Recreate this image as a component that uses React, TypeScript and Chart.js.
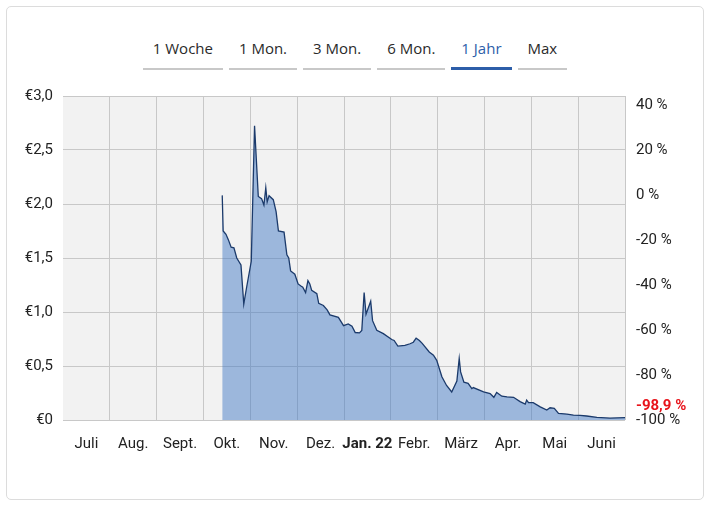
import React, { useEffect, useRef } from "react";
import { Chart, registerables } from "chart.js";

Chart.register(...registerables);

const monthLabels = ["Juli", "Aug.", "Sept.", "Okt.", "Nov.", "Dez.", "Jan. 22", "Febr.", "März", "Apr.", "Mai", "Juni"];
const tabs = ["1 Woche", "1 Mon.", "3 Mon.", "6 Mon.", "1 Jahr", "Max"];
const activeTab = "1 Jahr";

// position in months since 1 July 2021
const monthPos = [
  3.40, 3.42, 3.48, 3.53, 3.59, 3.65, 3.71, 3.80, 3.86, 3.92, 4.02, 4.09,
  4.17, 4.24, 4.29, 4.33, 4.36, 4.40, 4.49, 4.55, 4.60, 4.72, 4.78, 4.82,
  4.86, 4.95, 5.02, 5.08, 5.12, 5.18, 5.23, 5.27, 5.31, 5.42, 5.46, 5.56,
  5.64, 5.70, 5.88, 5.99, 6.09, 6.17, 6.24, 6.33, 6.38, 6.43, 6.47, 6.57,
  6.61, 6.70, 6.84, 7.02, 7.07, 7.15, 7.30, 7.41, 7.48, 7.54, 7.61, 7.67,
  7.82, 7.91, 7.98, 8.09, 8.19, 8.30, 8.41, 8.46, 8.49, 8.56, 8.65, 8.73,
  8.76, 8.98, 9.12, 9.20, 9.26, 9.37, 9.48, 9.62, 9.76, 9.87, 9.90, 9.94,
  10.04, 10.19, 10.33, 10.40, 10.49, 10.58, 10.76, 10.90, 11.04, 11.18, 11.40, 11.68,
  12.0,
];
const prices = [
  2.08, 1.75, 1.72, 1.67, 1.60, 1.595, 1.50, 1.435, 1.074, 1.227, 1.47, 2.724,
  2.07, 2.05, 1.99, 2.15, 2.02, 2.077, 2.04, 1.93, 1.75, 1.74, 1.53, 1.50,
  1.38, 1.35, 1.26, 1.24, 1.23, 1.18, 1.29, 1.26, 1.20, 1.17, 1.08, 1.06,
  1.02, 0.973, 0.95, 0.874, 0.89, 0.868, 0.81, 0.807, 0.83, 1.18, 0.98, 1.10,
  0.92, 0.83, 0.80, 0.745, 0.736, 0.684, 0.69, 0.706, 0.72, 0.757, 0.736, 0.71,
  0.63, 0.60, 0.552, 0.40, 0.32, 0.26, 0.36, 0.57, 0.445, 0.35, 0.34, 0.29,
  0.30, 0.26, 0.245, 0.21, 0.255, 0.22, 0.215, 0.21, 0.17, 0.147, 0.184, 0.16,
  0.16, 0.122, 0.092, 0.113, 0.108, 0.062, 0.055, 0.046, 0.043, 0.037, 0.025, 0.018,
  0.022,
];
const priceTicks = [0, 0.5, 1, 1.5, 2, 2.5, 3];
const pctTicks = [-100, -80, -60, -40, -20, 0, 20, 40];

const GRID = "#c8c8c8";
const FONT = "Roboto";
const FSIZE = 15;

export default function App() {
  const canvasRef = useRef<HTMLCanvasElement | null>(null);

  useEffect(() => {
    if (!canvasRef.current) return;
    const base = prices[0];
    const last = prices[prices.length - 1];
    const lastPct = (last / base - 1) * 100;
    const pctMax = (priceTicks[priceTicks.length - 1] / base - 1) * 100;

    const bgPlugin = {
      id: "plotBg",
      beforeDraw(chart: any) {
        const { ctx, chartArea } = chart;
        ctx.save();
        ctx.fillStyle = "#f2f2f2";
        ctx.fillRect(chartArea.left, chartArea.top, chartArea.right - chartArea.left, chartArea.bottom - chartArea.top);
        ctx.restore();
      },
    };
    const lastLabelPlugin = {
      id: "lastLabel",
      afterDraw(chart: any) {
        const { ctx, chartArea } = chart;
        const s = chart.scales.y1;
        let y = s.getPixelForValue(lastPct);
        const yMin = s.getPixelForValue(-100) - 14;
        if (y > yMin) y = yMin;
        ctx.save();
        ctx.font = `bold ${FSIZE}px ${FONT}`;
        ctx.fillStyle = "#e8141b";
        ctx.textAlign = "left";
        ctx.textBaseline = "middle";
        ctx.fillText(lastPct.toFixed(1).replace(".", ",") + " %", chartArea.right + 11, y);
        ctx.restore();
      },
    };

    const chart = new Chart(canvasRef.current, {
      type: "line",
      data: {
        datasets: [
          {
            data: monthPos.map((m, i) => ({ x: m, y: prices[i] })),
            borderColor: "#1b3a6b",
            borderWidth: 1.3,
            backgroundColor: "rgba(62,120,196,0.48)",
            fill: "origin",
            pointRadius: 0,
            tension: 0,
          },
        ],
      },
      options: {
        animation: false,
        responsive: false,
        layout: { padding: { top: 10, bottom: 0, left: 0, right: 0 } },
        plugins: { legend: { display: false }, tooltip: { enabled: false } },
        scales: {
          x: {
            type: "linear",
            min: 0,
            max: 12,
            border: { display: false },
            afterBuildTicks(scale: any) {
              const t = [];
              for (let i = 0; i <= 24; i++) t.push({ value: i / 2 });
              scale.ticks = t;
            },
            afterFit(scale: any) {
              scale.height = 40;
            },
            grid: {
              drawTicks: false,
              color: (ctx: any) => {
                const v = ctx.tick ? ctx.tick.value : 0;
                return v % 1 === 0 && v > 0 ? GRID : "rgba(0,0,0,0)";
              },
            },
            ticks: {
              autoSkip: false,
              maxRotation: 0,
              padding: 15,
              color: "#222",
              font: (ctx: any) => ({
                family: FONT,
                size: FSIZE,
                weight: ctx.tick && monthLabels[Math.floor(ctx.tick.value)] === "Jan. 22" && ctx.tick.value % 1 === 0.5 ? "bold" : "normal",
              }),
              callback: (v: any) => {
                const n = Number(v);
                return n % 1 === 0.5 ? monthLabels[Math.floor(n)] : "";
              },
            },
          },
          y: {
            position: "left",
            min: 0,
            max: 3,
            border: { display: false },
            afterBuildTicks(scale: any) {
              scale.ticks = priceTicks.map((v) => ({ value: v }));
            },
            afterFit(scale: any) {
              scale.width = 63;
            },
            grid: { color: GRID, drawTicks: false },
            ticks: {
              padding: 10,
              color: "#222",
              font: { family: FONT, size: FSIZE },
              callback: (v: any) => {
                const n = Number(v);
                return n === 0 ? "€0" : "€" + n.toFixed(1).replace(".", ",");
              },
            },
          },
          y1: {
            position: "right",
            min: -100,
            max: pctMax,
            border: { display: false },
            afterBuildTicks(scale: any) {
              scale.ticks = pctTicks.map((v) => ({ value: v }));
            },
            afterFit(scale: any) {
              scale.width = 85;
            },
            grid: { display: false, drawTicks: false },
            ticks: {
              padding: 11,
              color: "#222",
              font: { family: FONT, size: FSIZE },
              callback: (v: any) => Number(v) + " %",
            },
          },
        },
      },
      plugins: [bgPlugin, lastLabelPlugin],
    } as any);
    return () => chart.destroy();
  }, []);

  return (
    <div style={{ position: "fixed", left: 0, top: 0, width: 710, height: 507, background: "#fff" }}>
      <div
        style={{
          position: "absolute",
          left: 6,
          top: 6,
          width: 698,
          height: 494,
          boxSizing: "border-box",
          border: "1px solid #dcdcdc",
          borderRadius: 5,
        }}
      />
      <div
        style={{
          position: "absolute",
          left: 0,
          top: 38,
          width: 710,
          display: "flex",
          justifyContent: "center",
          gap: 6,
          fontFamily: "'Open Sans', sans-serif",
          fontSize: 15,
          lineHeight: "20px",
        }}
      >
        {tabs.map((t) => {
          const active = t === activeTab;
          return (
            <div
              key={t}
              style={{
                padding: active ? "0 10px 9px" : "0 10px 10px",
                color: active ? "#2d5ea9" : "#2a2a2a",
                borderBottom: active ? "3px solid #2d5ea9" : "2px solid #c8c8c8",
                whiteSpace: "nowrap",
              }}
            >
              {t}
            </div>
          );
        })}
      </div>
      <canvas
        ref={canvasRef}
        width={710}
        height={384}
        style={{ position: "absolute", left: 0, top: 76, width: 710, height: 384 }}
      />
    </div>
  );
}
